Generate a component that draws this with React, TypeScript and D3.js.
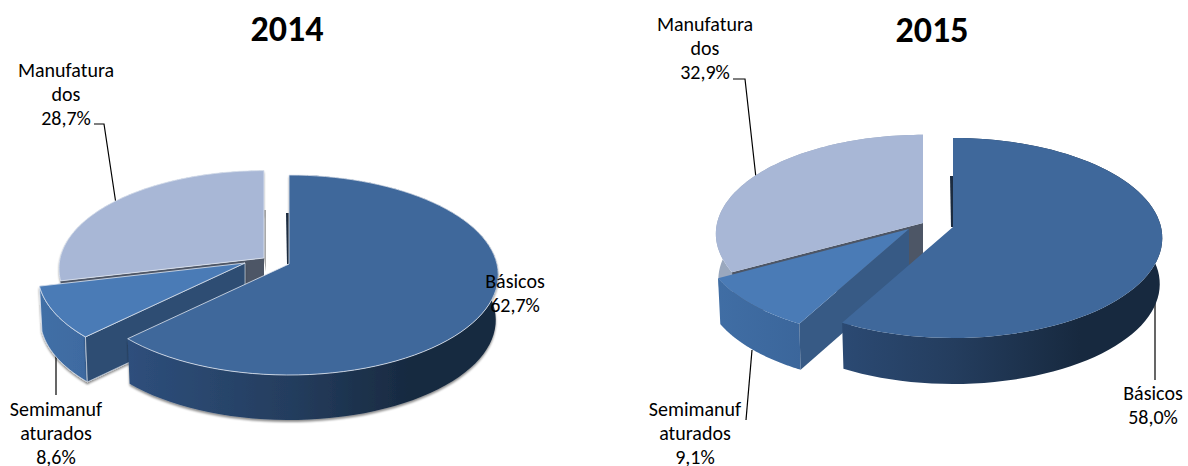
import React from "react";
import * as d3 from "d3";

const years = ["2014", "2015"];
const categories = ["Básicos", "Semimanufaturados", "Manufaturados"];
const values2014 = [62.7, 8.6, 28.7];
const values2015 = [58.0, 9.1, 32.9];
const labelLines2014 = [["Básicos", "62,7%"], ["Semimanuf", "aturados", "8,6%"], ["Manufatura", "dos", "28,7%"]];
const labelLines2015 = [["Básicos", "58,0%"], ["Semimanuf", "aturados", "9,1%"], ["Manufatura", "dos", "32,9%"]];

const FONT = "Carlito, Lato, sans-serif";
const RX = 208;
const RY = 98.8;
const P = 0.11;

const layouts = [
  {
    cx: 288, cy: 264, depth: 45, titleX: 287, titleY: 41, soft: true,
    offsets: [[1, 0], [-43, -1], [-24, -6]],
    scales: [1, 0.99, 0.98],
    labels: [[515, 288], [56, 416], [66, 77]],
    leaders: [
      [[56, 395], [56, 355]],
      [[94, 124], [104, 124], [116, 204]],
    ],
    wall: ["#2d4d73", "#4d5666"],
  },
  {
    cx: 952, cy: 227, depth: 46, titleX: 932, titleY: 42, soft: false,
    offsets: [[1, 0], [-43, 2], [-29, -4]],
    scales: [1, 0.99, 0.99],
    labels: [[1153, 400], [695, 416], [705, 31]],
    leaders: [
      [[746, 420], [752, 350]],
      [[733, 79], [745, 79], [756, 178]],
      [[1155, 380], [1155, 296]],
    ],
    wall: ["#375a85", "#4d5666"],
  },
];

const topColors = ["#3f689b", "#4a7bb6", "#a8b7d6"];

function Pie({ values, lines, layout, index }: any) {
  const { cx, cy, depth, offsets, soft, scales } = layout;
  const arcs = d3.pie<number>().sort(null).value((d) => d).startAngle(0).endAngle(2 * Math.PI)(values);
  const line = d3.line<[number, number]>();
  const xs = d3.scaleLinear().domain([-1, 1]).range([cx - RX, cx + RX]);
  const ys = d3.scaleLinear().domain([-1, 1]).range([cy + RY, cy - RY]);

  const project = (u: number, v: number, off: number[], down = 0): [number, number] => {
    const w = 1 + P * v;
    const k = down ? 0.988 : 1;
    return [xs((u / w) * k) + off[0], ys(v / w) + off[1] + down];
  };
  const arcPoints = (a0: number, a1: number, off: number[], down = 0, s = 1) =>
    d3.range(0, 81).map((i) => {
      const a = a0 + ((a1 - a0) * i) / 80;
      return project(Math.sin(a) * s, Math.cos(a) * s, off, down);
    });

  const id = `c${index}`;
  const order = [2, 1, 0];
  return (
    <g>
      <defs>
        <linearGradient id={`${id}-rim0`} gradientUnits="userSpaceOnUse" x1={cx - 160} x2={cx + 200} y1={0} y2={0}>
          <stop offset="0" stopColor="#2e4f7c" />
          <stop offset="0.45" stopColor="#243d5e" />
          <stop offset="0.8" stopColor="#17293f" />
          <stop offset="1" stopColor="#17293f" />
        </linearGradient>
        <linearGradient id={`${id}-rim1`} gradientUnits="userSpaceOnUse" x1={cx - 250} x2={cx - 150} y1={0} y2={0}>
          <stop offset="0" stopColor="#416fa6" />
          <stop offset="1" stopColor="#3b669b" />
        </linearGradient>
        <filter id={`${id}-shadow`} x="-10%" y="-10%" width="120%" height="125%">
          <feDropShadow dx="0" dy="2" stdDeviation="1.3" floodColor="#000" floodOpacity="0.45" />
        </filter>
      </defs>
      <text x={layout.titleX} y={layout.titleY} textAnchor="middle" fontFamily={FONT} fontWeight={700} fontSize={36} fill="#000">
        {years[index]}
      </text>
      <g fill="none" stroke="#000" strokeWidth={1.2}>
        {layout.leaders.map((pts: [number, number][], i: number) => (
          <path key={i} d={line(pts) ?? ""} />
        ))}
      </g>
      {order.map((i) => {
        const a = arcs[i];
        const off = offsets[i];
        const s = scales[i];
        const top = arcPoints(a.startAngle, a.endAngle, off, 0, s);
        const bottom = arcPoints(a.startAngle, a.endAngle, off, depth, s);
        const apex = project(0, 0, off);
        const apexB = project(0, 0, off, depth);
        const face = (line([apex, ...top]) ?? "") + "Z";
        const rim = (line([...top, ...[...bottom].reverse()]) ?? "") + "Z";
        const radial = (pts: [number, number], ptsB: [number, number]) =>
          (line([apex, pts, ptsB, apexB]) ?? "") + "Z";
        const shadow = soft ? `url(#${id}-shadow)` : undefined;
        const edge = soft ? "#dfe6f0" : "none";
        return (
          <g key={i}>
            {i === 0 && (
              <path
                d={(line([apex, [top[0][0], top[0][1] + 38], [top[0][0] - 3, top[0][1] + 38], [apex[0] - 2, apex[1]]]) ?? "") + "Z"}
                fill="#1c2c40"
              />
            )}
            {i === 2 && soft && (
              <path
                d={(line([apex, [apex[0], apex[1] - 48], [apex[0] + 2, apex[1] - 48], [apex[0] + 2, apex[1] + 14]]) ?? "") + "Z"}
                fill="#a9a9a9"
              />
            )}
            {i === 2 && <path d={rim} fill="#9aa8be" filter={shadow} />}
            {i === 2 && <path d={radial(top[0], bottom[0])} fill={layout.wall[1]} />}
            {i === 1 && (
              <path d={rim} fill={`url(#${id}-rim1)`} filter={shadow} stroke={edge} strokeWidth={0.8} />
            )}
            {i === 1 && (
              <path d={radial(top[0], bottom[0])} fill={layout.wall[0]} filter={shadow} stroke={edge} strokeWidth={0.6} />
            )}
            {i === 0 && <path d={rim} fill={`url(#${id}-rim0)`} filter={shadow} />}
            <path d={face} fill={topColors[i]} stroke={edge} strokeWidth={0.8} />
          </g>
        );
      })}
      {lines.map((ls: string[], i: number) => (
        <text key={categories[i]} fontFamily={FONT} fontSize={20} fill="#000" textAnchor="middle">
          {ls.map((t: string, j: number) => (
            <tspan key={j} x={layout.labels[i][0]} y={layout.labels[i][1] + j * 24}>
              {t}
            </tspan>
          ))}
        </text>
      ))}
    </g>
  );
}

export default function App() {
  return (
    <svg width={1188} height={466} style={{ position: "absolute", left: 0, top: 0, background: "#fff" }}>
      <Pie values={values2014} lines={labelLines2014} layout={layouts[0]} index={0} />
      <Pie values={values2015} lines={labelLines2015} layout={layouts[1]} index={1} />
    </svg>
  );
}
